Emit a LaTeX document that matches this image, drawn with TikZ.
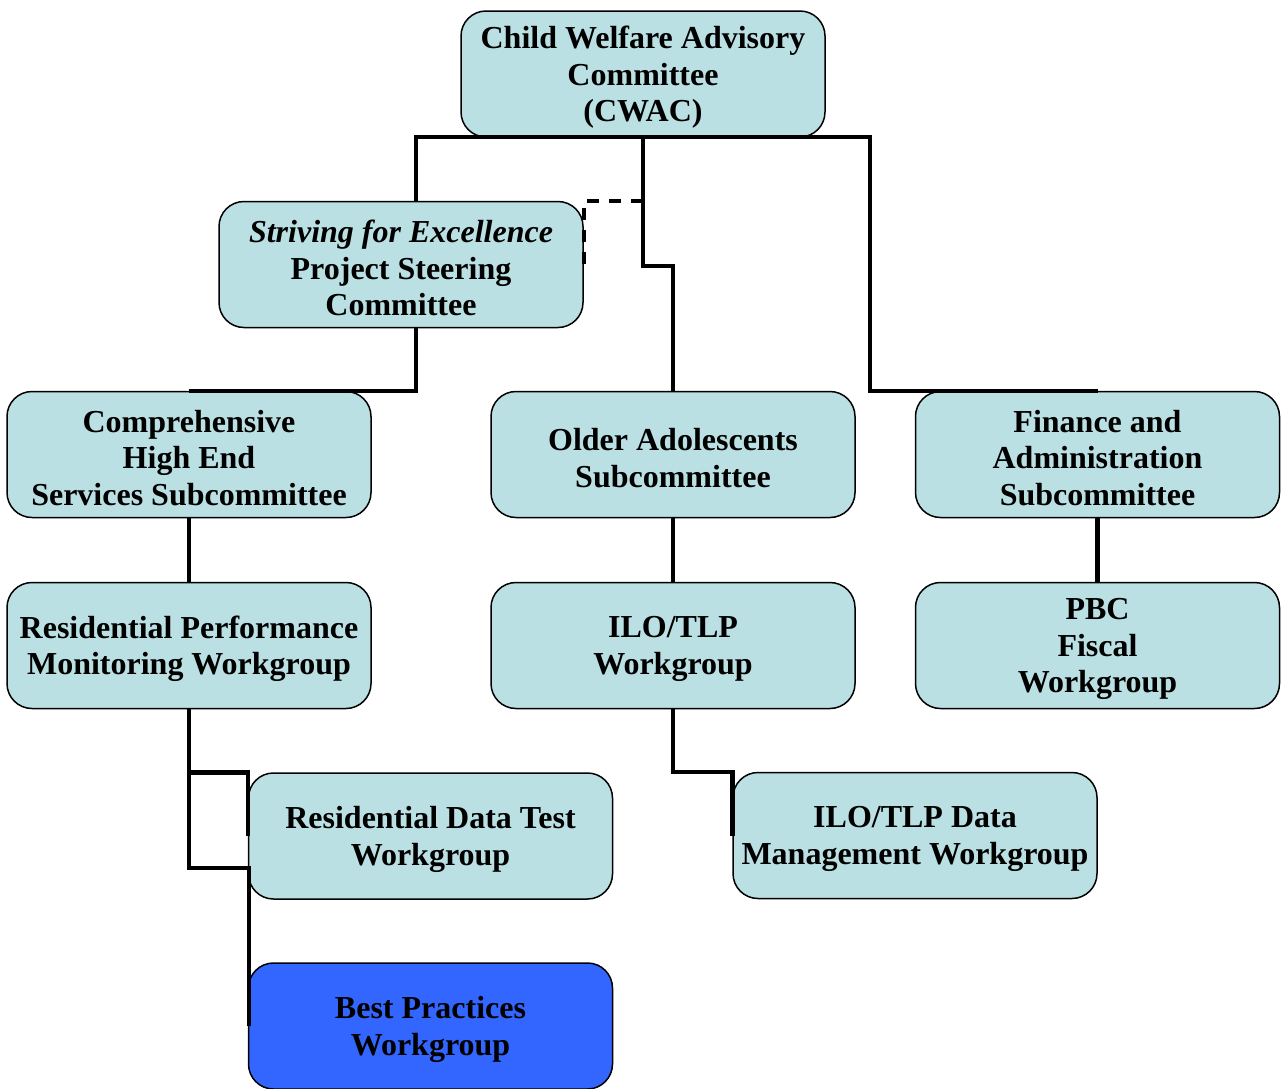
\documentclass[tikz,border=0pt]{standalone}
\usepackage{fontspec}
\setmainfont{Liberation Serif}
\definecolor{boxfill}{HTML}{BBE0E3}
\definecolor{bluefill}{HTML}{3366FF}
\tikzset{
  orgbox/.style={draw=black, line width=1.5pt, fill=boxfill, rounded corners=25pt,
    minimum width=364pt, minimum height=126pt, inner sep=0pt},
  lbl/.style={inner sep=0pt, align=center, yshift=-3.5pt,
    font=\bfseries\fontsize{32}{36.5}\selectfont},
  conn/.style={line width=4.5pt, black},
  dsh/.style={line width=4.5pt, black, dash pattern=on 12pt off 10pt}
}
\begin{document}
\begin{tikzpicture}[x=1pt,y=-1pt]
\useasboundingbox (0,0) rectangle (1285,1088);
\node[orgbox] (cwac) at (643,74) {};
\node[orgbox] (striv) at (401,264.5) {};
\node[orgbox] (comp) at (189,454.5) {};
\node[orgbox] (older) at (673,454.5) {};
\node[orgbox] (fin) at (1097.5,454.5) {};
\node[orgbox] (resperf) at (189,645.5) {};
\node[orgbox] (ilo) at (673,645.5) {};
\node[orgbox] (pbc) at (1097.5,645.5) {};
\node[orgbox] (resdata) at (430.5,836) {};
\node[orgbox] (ilodata) at (915,835.5) {};
\node[orgbox, fill=bluefill] (best) at (430.5,1026) {};
\node[lbl] (cwac-t) at (cwac.center) {Child Welfare Advisory\\Committee\\(CWAC)};
\node[lbl] (striv-t) at (striv.center) {\textit{Striving for Excellence}\\Project Steering\\Committee};
\node[lbl] (comp-t) at (comp.center) {Comprehensive\\High End\\Services Subcommittee};
\node[lbl] (older-t) at (older.center) {Older Adolescents\\Subcommittee};
\node[lbl] (fin-t) at (fin.center) {Finance and\\Administration\\Subcommittee};
\node[lbl] (resperf-t) at (resperf.center) {Residential Performance\\Monitoring Workgroup};
\node[lbl] (ilo-t) at (ilo.center) {ILO/TLP\\Workgroup};
\node[lbl] (pbc-t) at (pbc.center) {PBC\\Fiscal\\Workgroup};
\node[lbl] (resdata-t) at (resdata.center) {Residential Data Test\\Workgroup};
\node[lbl] (ilodata-t) at (ilodata.center) {ILO/TLP Data\\Management Workgroup};
\node[lbl] (best-t) at (best.center) {Best Practices\\Workgroup};
\coordinate (j1) at (416,137);
\coordinate (j2) at (870,137);
\coordinate (k) at (249,868);
% connectors
\draw[conn] (striv.north -| j1) -- (j1) -- (j2) -- (j2 |- fin.north) -- (fin.north);
\draw[conn] (cwac.south) -- ++(0,128) -| (older.north);
\draw[dsh] (cwac.south |- striv.north) -- (striv.north east) -- (striv.east);
\draw[conn] (striv.south -| j1) |- (comp.north);
\draw[conn] (comp.south) -- (resperf.north);
\draw[conn] (older.south) -- (ilo.north);
\draw[conn] (fin.south) -- (pbc.north);
\draw[conn] (resperf.south) |- (resdata.north west) -- (resdata.west);
\draw[conn] (resperf.south) -- (resperf.south |- k) -- (k) -- (k |- best.center);
\draw[conn] (ilo.south) |- (ilodata.north west) -- (ilodata.west);
\end{tikzpicture}
\end{document}
